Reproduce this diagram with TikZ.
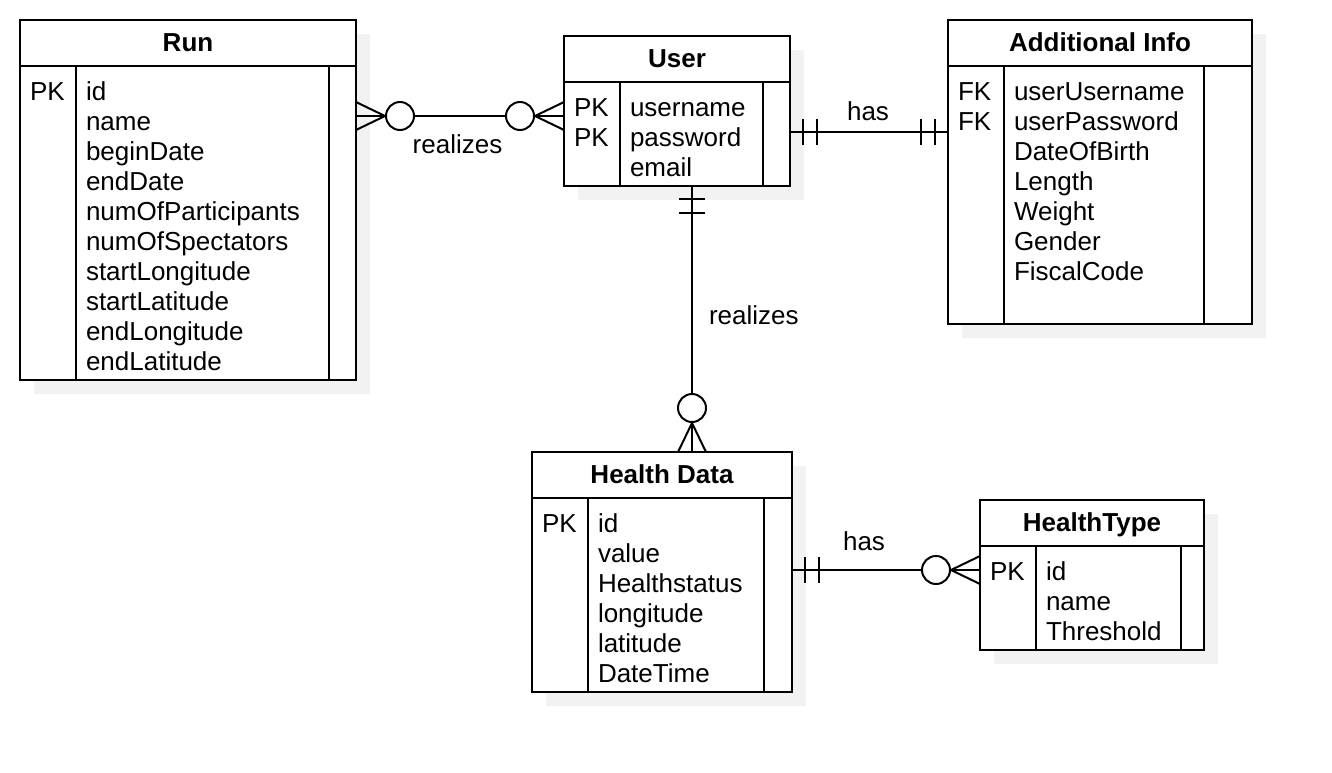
\documentclass[tikz,border=0pt]{standalone}
\usepackage{fontspec}
\setmainfont{Liberation Sans}
\usetikzlibrary{calc}
\definecolor{shadowc}{RGB}{242,242,242}
\tikzset{
  tbox/.style={draw=black, line width=2pt, fill=white, inner sep=0pt, outer sep=0pt},
  sepline/.style={draw=black, line width=1.5pt},
  txt/.style={inner sep=0pt, outer sep=0pt, text=black, font=\fontsize{26}{30}\selectfont},
  ttl/.style={txt, font=\fontsize{26}{30}\selectfont\bfseries},
  conn/.style={draw=black, line width=2pt},
}
% #1 name, #2 x, #3 y, #4 width, #5 height, #6 right column width, #7 title, #8 keys, #9 fields
\newcommand{\ertable}[9]{%
  \fill[shadowc] (#2+14,#3+14) rectangle (#2+#4+14,#3+#5+14);
  \node[tbox, anchor=north west, minimum width=#4pt, minimum height=46pt] (#1-head) at (#2,#3) {};
  \node[tbox, anchor=north west, minimum width=#4pt, minimum height={(#5-46)*1pt}] (#1-body) at (#2,#3+46) {};
  \draw[sepline] (#2+56,#3+46) -- (#2+56,#3+#5);
  \draw[sepline] (#2+#4-#6,#3+46) -- (#2+#4-#6,#3+#5);
  \node[ttl, anchor=base] (#1-title) at (#2+#4/2,#3+31) {#7};
  \foreach \k [count=\i] in {#8} {\node[txt, anchor=base west] (#1-k\i) at ({#2+10},{#3+80+30*(\i-1)}) {\k};}
  \foreach \f [count=\i] in {#9} {\node[txt, anchor=base west] (#1-f\i) at ({#2+66},{#3+80+30*(\i-1)}) {\f};}
}
\newcommand{\zeromany}[2]{%
  \begin{scope}[shift={(#1)}, rotate=#2]
    \draw[conn] (0,-14) -- (29,0) -- (0,14);
    \draw[conn, fill=white] (44,0) circle[radius=14pt];
  \end{scope}}
\newcommand{\oneone}[2]{%
  \begin{scope}[shift={(#1)}, rotate=#2]
    \draw[conn] (13,-13) -- (13,13) (27,-13) -- (27,13);
  \end{scope}}
\begin{document}
\begin{tikzpicture}[x=1pt, y=-1pt]
\useasboundingbox (0,0) rectangle (1332,772);
\fill[white] (0,0) rectangle (1332,772);

\ertable{run}{20}{20}{336}{360}{27}{Run}{PK}{id,name,beginDate,endDate,numOfParticipants,numOfSpectators,startLongitude,startLatitude,endLongitude,endLatitude}
\ertable{user}{564}{36}{226}{150}{27}{User}{PK,PK}{username,password,email}
\ertable{add}{948}{20}{304}{304}{48}{Additional Info}{FK,FK}{userUsername,userPassword,DateOfBirth,Length,Weight,Gender,FiscalCode}
\ertable{hd}{532}{452}{260}{240}{28}{Health Data}{PK}{id,value,Healthstatus,longitude,latitude,DateTime}
\ertable{ht}{980}{500}{224}{150}{23}{HealthType}{PK}{id,name,Threshold}

% connector end points
\coordinate (a) at ([yshift=-50pt]run-body.north east);
\coordinate (b) at ([yshift=-34pt]user-body.north west);
\coordinate (c) at ([yshift=-50pt]user-body.north east);
\coordinate (d) at ([yshift=-66pt]add-body.north west);
\coordinate (e) at ([xshift=15pt]user-body.south);
\coordinate (f) at ([xshift=30pt]hd-head.north);
\coordinate (g) at ([yshift=-72pt]hd-body.north east);
\coordinate (h) at ([yshift=-24pt]ht-body.north west);

% Run -- User
\draw[conn] (a) -- (b);
\zeromany{a}{0}
\zeromany{b}{180}
\node[txt, anchor=base] (lbl1) at (457.5,153) {realizes};

% User -- Additional Info
\draw[conn] (c) -- (d);
\oneone{c}{0}
\oneone{d}{180}
\node[txt, anchor=base] (lbl2) at (868,120) {has};

% User -- Health Data
\draw[conn] (e) -- (f);
\oneone{e}{-90}
\zeromany{f}{90}
\node[txt, anchor=base west] (lbl3) at (709,324) {realizes};

% Health Data -- HealthType
\draw[conn] (g) -- (h);
\oneone{g}{0}
\zeromany{h}{180}
\node[txt, anchor=base] (lbl4) at (864,550) {has};
\end{tikzpicture}
\end{document}
